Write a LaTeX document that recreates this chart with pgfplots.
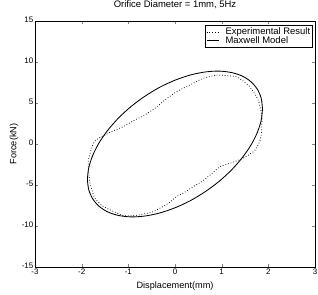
\documentclass[border=0pt]{standalone}
\usepackage{pgfplots}
\pgfplotsset{compat=1.18}
\usepackage{fontspec}
\setmainfont{Liberation Sans}
\begin{document}
\begin{tikzpicture}
\path[use as bounding box] (-35bp,-28bp) rectangle (283bp,267bp);
\begin{axis}[
  scale only axis, width=280bp, height=246bp,
  at={(0,0)}, anchor=south west,
  xmin=-3, xmax=3, ymin=-15, ymax=15,
  xtick={-3,-2,-1,0,1,2,3}, ytick={-15,-10,-5,0,5,10,15},
  tick align=inside, major tick length=3bp,
  axis line style={line width=0.6pt},
  /pgf/number format/assume math mode=true,
  ticklabel style={font=\fontsize{8}{9}\selectfont},
  xticklabel style={inner sep=0.5bp, yshift=-1.5bp},
  yticklabel style={inner sep=1.5bp, yshift=1.5bp},
  title={Orifice Diameter = 1mm, 5Hz},
  title style={font=\fontsize{9.5}{10}\selectfont, at={(axis description cs:0.5,1)}, anchor=base, yshift=8bp},
  xlabel={Displacement(mm)},
  xlabel style={font=\fontsize{9.2}{10}\selectfont, at={(axis description cs:0.5,0)}, anchor=base, yshift=-21bp},
  ylabel={Force(kN)},
  ylabel style={font=\fontsize{9.2}{10}\selectfont, at={(axis description cs:-0.075,0.5)}, anchor=center},
  legend style={at={(0.993,0.984)}, anchor=north east, font=\fontsize{9.5}{10}\selectfont,
    inner sep=1bp, row sep=-2.5bp, draw=black, line width=0.6pt,
    nodes={inner sep=1.5bp},
    /tikz/every odd column/.append style={column sep=5bp}},
  legend cell align=left,
  legend image code/.code={\draw[#1] (0bp,0bp) -- (12bp,0bp);},
]
\addplot[black, dotted, smooth, tension=0.3, line width=0.75pt] coordinates {
(0.89,8.41) (1.32,8.20) (1.60,7.00) (1.78,5.37) (1.86,3.50) (1.855,1.50)
(1.82,0.40) (1.71,-0.80) (1.46,-1.74) (1.18,-2.35) (0.96,-2.77) (0.77,-3.70)
(0.57,-4.60) (0.39,-5.20) (0.175,-6.00) (0.034,-6.40) (-0.145,-7.24) (-0.47,-8.26)
(-0.82,-8.70) (-1.11,-8.72) (-1.32,-8.22) (-1.54,-7.60) (-1.72,-6.60) (-1.82,-4.80)
(-1.86,-2.15) (-1.75,0.09) (-1.64,0.70) (-1.38,1.45) (-1.11,2.11) (-0.86,2.93)
(-0.645,3.54) (-0.43,4.35) (-0.216,5.37) (0.034,6.38) (0.32,7.20) (0.60,8.00) (0.89,8.41)
};
\addlegendentry{Experimental Result}
\addplot[black, smooth, line width=0.85pt] coordinates {
(1.875,4.30) (1.847,2.88) (1.762,1.38) (1.624,-0.17) (1.436,-1.71) (1.205,-3.20)
(0.938,-4.59) (0.641,-5.84) (0.326,-6.92) (0,-7.78) (-0.326,-8.41) (-0.641,-8.78)
(-0.938,-8.89) (-1.205,-8.72) (-1.436,-8.30) (-1.624,-7.61) (-1.762,-6.70) (-1.847,-5.59)
(-1.875,-4.30) (-1.847,-2.88) (-1.762,-1.38) (-1.624,0.17) (-1.436,1.71) (-1.205,3.20)
(-0.938,4.59) (-0.641,5.84) (-0.326,6.92) (0,7.78) (0.326,8.41) (0.641,8.78)
(0.938,8.89) (1.205,8.72) (1.436,8.30) (1.624,7.61) (1.762,6.70) (1.847,5.59) (1.875,4.30)
};
\addlegendentry{Maxwell Model}
\end{axis}
\end{tikzpicture}
\end{document}
